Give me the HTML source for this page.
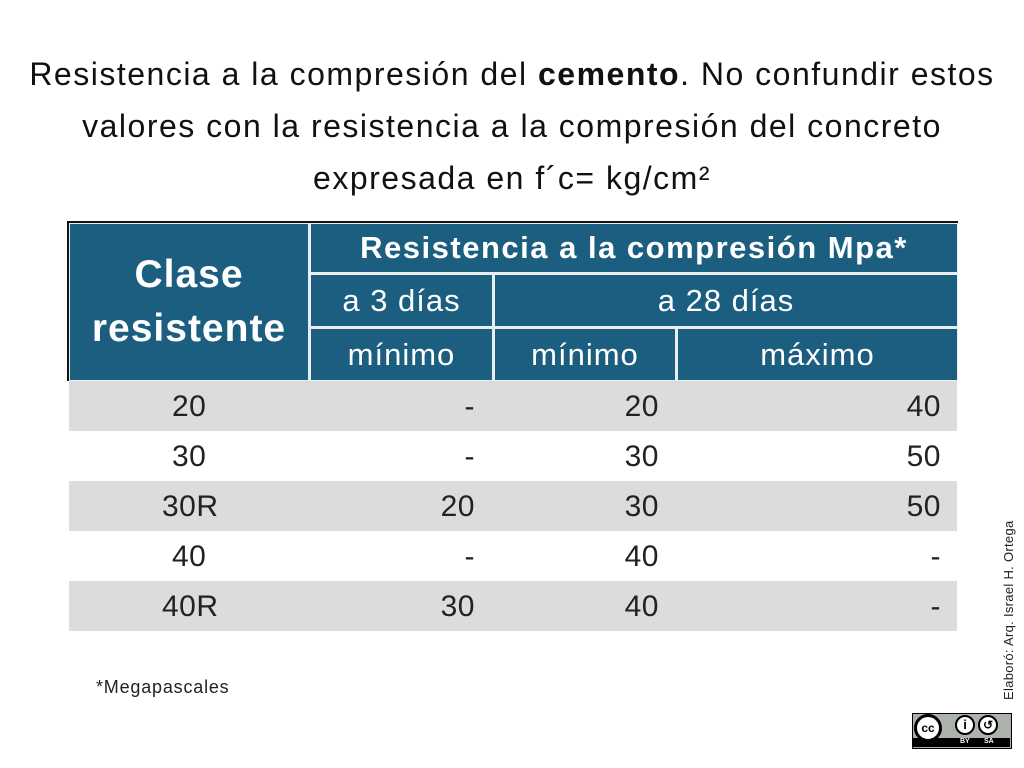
<!DOCTYPE html>
<html><head><meta charset="utf-8"><style>
body{margin:0;width:1024px;height:768px;background:#fff;position:relative;overflow:hidden;font-family:"Liberation Sans",sans-serif;}
.t{position:absolute;left:0;width:1024px;text-align:center;font-size:32px;letter-spacing:1.5px;color:#111;white-space:nowrap;}
.b{position:absolute;background:#1b5e80;color:#fff;display:flex;align-items:center;justify-content:center;font-size:31px;letter-spacing:1px;}
.r{position:absolute;left:69px;width:888px;height:50px;font-size:30px;color:#222;letter-spacing:0.5px;}
.r span{position:absolute;top:9px;}
</style></head><body>
<div class="t" style="top:56px">Resistencia a la compresión del <b>cemento</b>. No confundir estos</div>
<div class="t" style="top:108px">valores con la resistencia a la compresión del concreto</div>
<div class="t" style="top:160px">expresada en f´c= kg/cm²</div>
<div style="position:absolute;left:67px;top:221px;width:891px;height:160px;background:#111"></div>
<div style="position:absolute;left:69px;top:223px;width:889px;height:158px;background:#e8eef2"></div>
<div class="b" style="left:70px;top:224px;width:238px;height:156px;font-weight:bold;font-size:39px;letter-spacing:1px;line-height:54px;text-align:center">Clase<br>resistente</div>
<div class="b" style="left:311px;top:224px;width:646px;height:48px;font-weight:bold;font-size:31px;letter-spacing:1.5px">Resistencia a la compresión Mpa*</div>
<div class="b" style="left:311px;top:275px;width:181px;height:51px">a 3 días</div>
<div class="b" style="left:495px;top:275px;width:462px;height:51px">a 28 días</div>
<div class="b" style="left:311px;top:329px;width:181px;height:51px">mínimo</div>
<div class="b" style="left:495px;top:329px;width:180px;height:51px">mínimo</div>
<div class="b" style="left:678px;top:329px;width:279px;height:51px">máximo</div>
<div class="r" style="top:381px;background:#dcdcdc"><span style="left:103px">20</span><span style="right:482px">-</span><span style="right:298px">20</span><span style="right:16px">40</span></div>
<div class="r" style="top:431px"><span style="left:103px">30</span><span style="right:482px">-</span><span style="right:298px">30</span><span style="right:16px">50</span></div>
<div class="r" style="top:481px;background:#dcdcdc"><span style="left:93px">30R</span><span style="right:482px">20</span><span style="right:298px">30</span><span style="right:16px">50</span></div>
<div class="r" style="top:531px"><span style="left:103px">40</span><span style="right:482px">-</span><span style="right:298px">40</span><span style="right:16px">-</span></div>
<div class="r" style="top:581px;background:#dcdcdc"><span style="left:93px">40R</span><span style="right:482px">30</span><span style="right:298px">40</span><span style="right:16px">-</span></div>
<div style="position:absolute;left:96px;top:677px;font-size:18px;letter-spacing:0.8px;color:#222">*Megapascales</div>
<div style="position:absolute;left:1001px;top:700px;transform:rotate(-90deg);transform-origin:0 0;font-size:13px;letter-spacing:0.3px;color:#222;white-space:nowrap">Elaboró: Arq. Israel H. Ortega</div>
<div style="position:absolute;left:912px;top:713px;width:98px;height:34px;background:#aab2ab;border:1px solid #000"></div>
<div style="position:absolute;left:913px;top:738px;width:97px;height:9px;background:#000;color:#fff;font-size:7px;font-weight:bold"><span style="position:absolute;left:47px">BY</span><span style="position:absolute;left:71px">SA</span></div>
<div style="position:absolute;left:914px;top:714px;width:28px;height:28px;border-radius:50%;background:#fff;border:3px solid #000;box-sizing:border-box;font-size:12px;font-weight:bold;text-align:center;line-height:22px">cc</div>
<div style="position:absolute;left:955px;top:715px;width:20px;height:20px;border-radius:50%;background:#fff;border:2px solid #000;box-sizing:border-box;font-size:13px;font-weight:bold;text-align:center;line-height:16px">i</div>
<div style="position:absolute;left:978px;top:715px;width:20px;height:20px;border-radius:50%;background:#fff;border:2px solid #000;box-sizing:border-box;font-size:12px;font-weight:bold;text-align:center;line-height:16px">↺</div>
</body></html>
